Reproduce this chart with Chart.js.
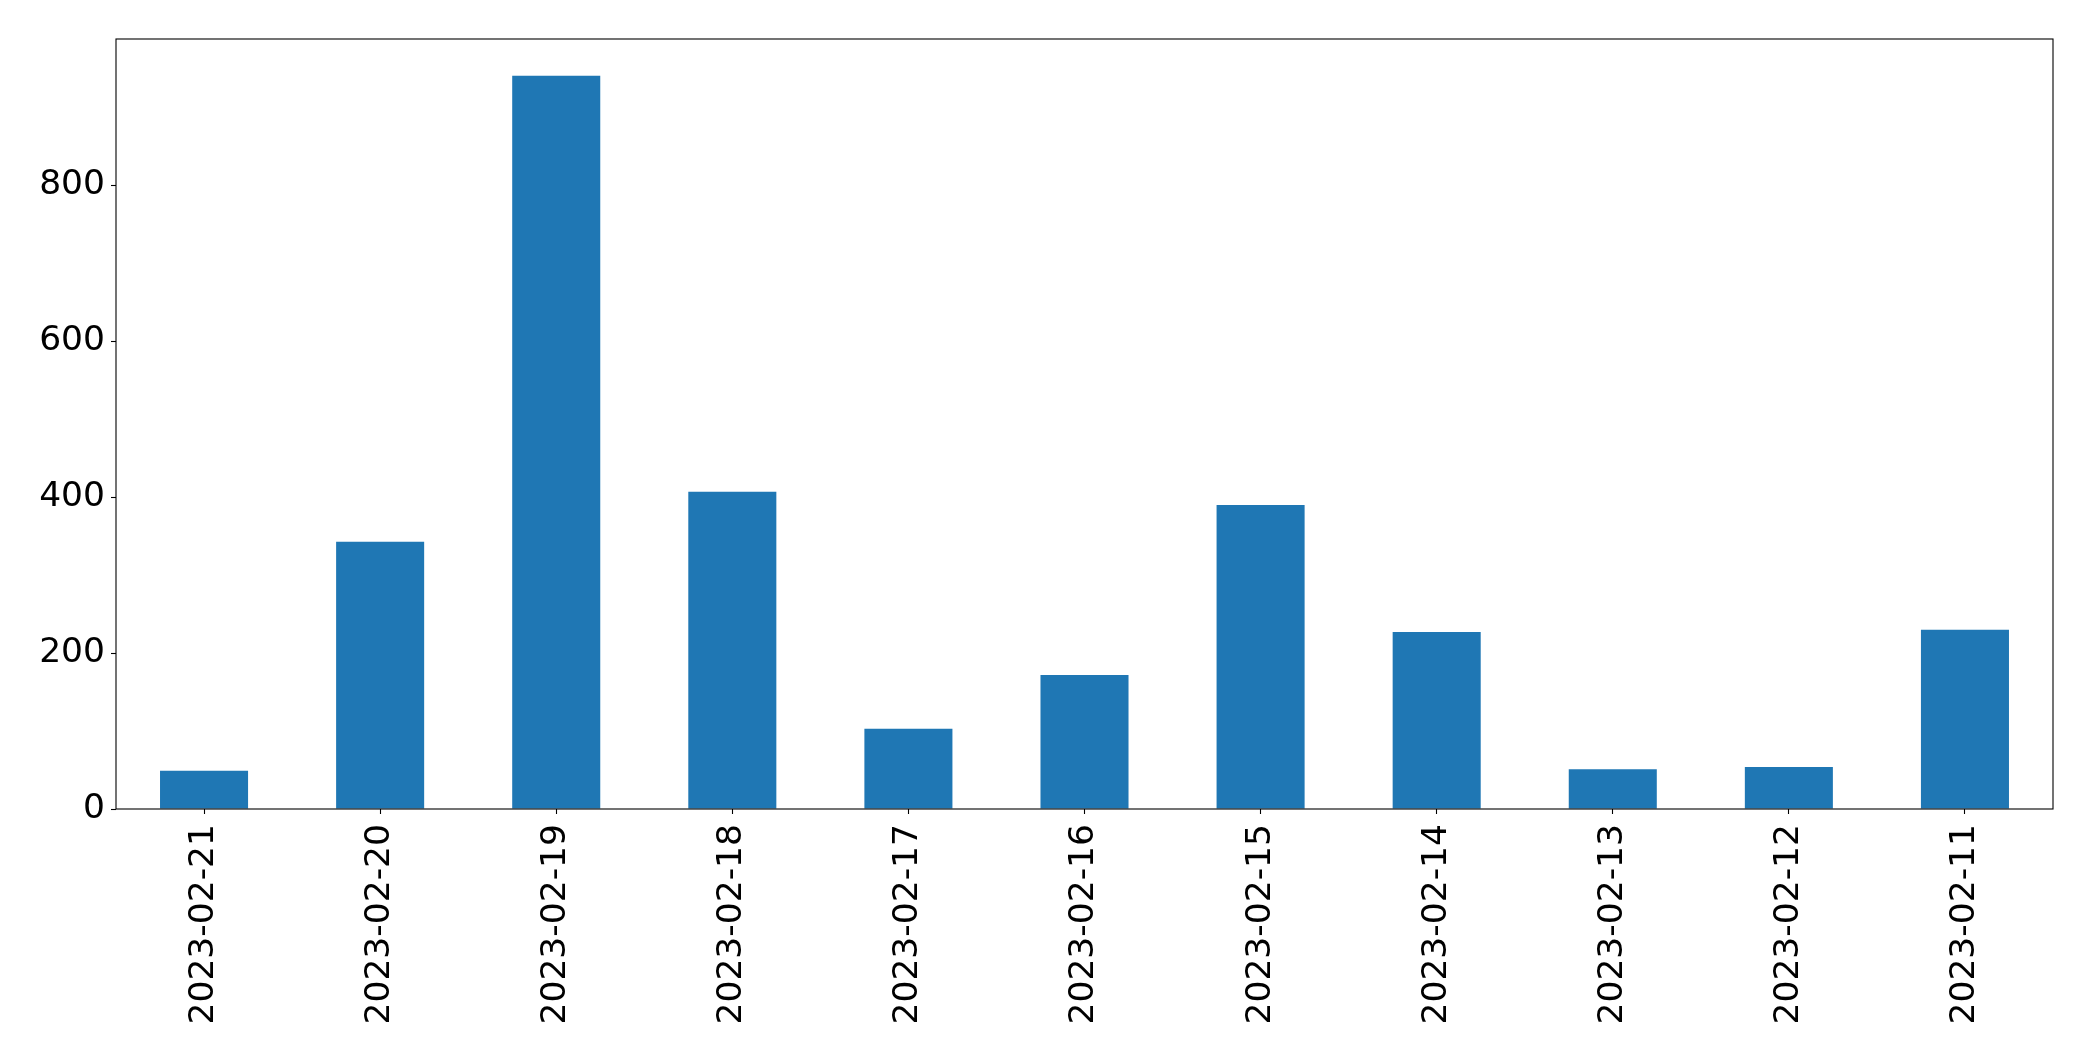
<!DOCTYPE html>
<html>
<head>
<meta charset="utf-8">
<script src="https://cdn.jsdelivr.net/npm/chart.js@4"></script>
<style>
  html, body { margin: 0; padding: 0; background: #fff; }
  #wrap { width: 2093px; height: 1061px; }
</style>
</head>
<body>
<div id="wrap"><canvas id="chart" width="2093" height="1061"></canvas></div>
<script>
// dates as they appear on the x axis (newest first)
const categories = ["2023-02-21", "2023-02-20", "2023-02-19", "2023-02-18", "2023-02-17",
  "2023-02-16", "2023-02-15", "2023-02-14", "2023-02-13", "2023-02-12", "2023-02-11"];
const counts = [49, 343, 941, 407, 103, 172, 390, 227, 51, 54, 230];
const yTicks = [0, 200, 400, 600, 800];
const yMax = 988;

const font = { family: "'DejaVu Sans', sans-serif", size: 34.5 };

// matplotlib style frame round the plot area
const boxPlugin = {
  id: "box",
  afterDraw(chart) {
    const { ctx, chartArea: a } = chart;
    ctx.save();
    ctx.strokeStyle = "#000";
    ctx.lineWidth = 1.1;
    ctx.strokeRect(a.left, a.top, a.right - a.left, a.bottom - a.top);
    ctx.restore();
  }
};

new Chart(document.getElementById("chart").getContext("2d"), {
  type: "bar",
  data: {
    labels: categories,
    datasets: [{
      data: counts,
      backgroundColor: "#1f77b4",
      borderWidth: 0,
      barPercentage: 0.5,
      categoryPercentage: 1.0
    }]
  },
  options: {
    responsive: false,
    devicePixelRatio: 1,
    animation: false,
    layout: { padding: { left: 0, top: 39, right: 40, bottom: 0 } },
    plugins: { legend: { display: false }, tooltip: { enabled: false } },
    scales: {
      x: {
        offset: true,
        border: { display: false },
        grid: { display: true, offset: false, drawOnChartArea: false, drawTicks: true, tickLength: 5, tickColor: "#000", tickWidth: 1.1 },
        ticks: { color: "#000", font, minRotation: 90, maxRotation: 90, padding: 10, autoSkip: false },
        afterFit(scale) { scale.height = 252; }
      },
      y: {
        min: 0,
        max: yMax,
        border: { display: false },
        grid: { display: true, drawOnChartArea: false, drawTicks: true, tickLength: 5, tickColor: "#000", tickWidth: 1.1 },
        ticks: { color: "#000", font, stepSize: 200, includeBounds: false, padding: 6 },
        afterBuildTicks(scale) { scale.ticks = yTicks.map(v => ({ value: v })); },
        afterFit(scale) { scale.width = 116; }
      }
    }
  },
  plugins: [boxPlugin]
});
</script>
</body>
</html>
